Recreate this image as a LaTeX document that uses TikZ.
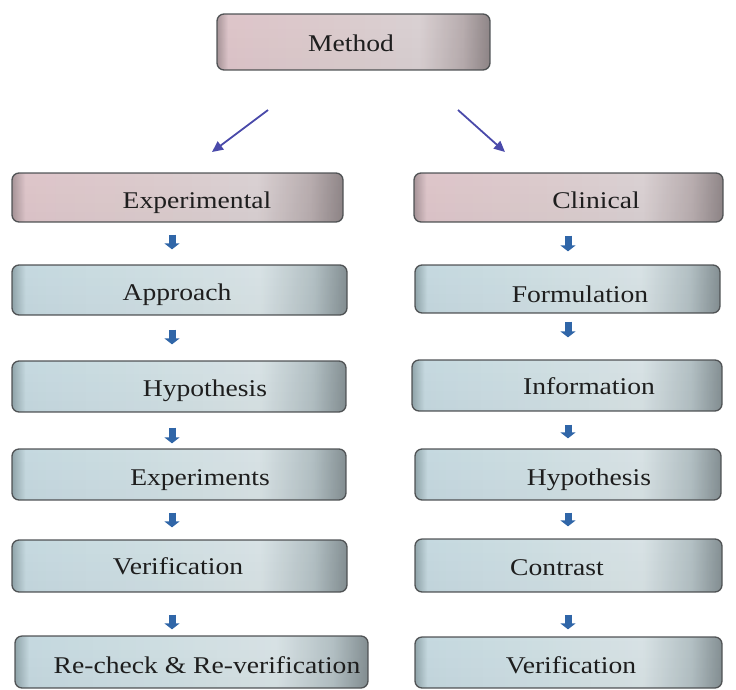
\documentclass[tikz,border=0pt]{standalone}
\usepackage{fontspec}
\usetikzlibrary{arrows.meta,fadings}
\newfontfamily\boxfont[FakeStretch=1.15]{Liberation Serif}

\definecolor{boxedge}{HTML}{55585A}
\definecolor{txt}{HTML}{1E1E1E}
\definecolor{diagblue}{HTML}{4A4AAA}
\definecolor{blockblue}{HTML}{3066A8}
% pink header boxes
\definecolor{pk0}{HTML}{B4A0A4}
\definecolor{pk1}{HTML}{EED4D9}
\definecolor{pk2}{HTML}{ECDADC}
\definecolor{pk3}{HTML}{EAE0E2}
\definecolor{pk4}{HTML}{C6BABC}
\definecolor{pk5}{HTML}{9A9092}
% pale blue step boxes
\definecolor{bl0}{HTML}{9CB2B8}
\definecolor{bl1}{HTML}{D4E9F0}
\definecolor{bl2}{HTML}{DDEEF3}
\definecolor{bl3}{HTML}{E8F3F6}
\definecolor{bl4}{HTML}{C0CED2}
\definecolor{bl5}{HTML}{8E9A9E}

\pgfdeclarehorizontalshading{pinkshade}{100bp}{color(0bp)=(pk0); color(25bp)=(pk0); color(27bp)=(pk1); color(45bp)=(pk2); color(62bp)=(pk3); color(70bp)=(pk4); color(75bp)=(pk5); color(100bp)=(pk5)}
\pgfdeclarehorizontalshading{blueshade}{100bp}{color(0bp)=(bl0); color(25bp)=(bl0); color(27bp)=(bl1); color(45bp)=(bl2); color(62bp)=(bl3); color(70bp)=(bl4); color(75bp)=(bl5); color(100bp)=(bl5)}
\tikzfading[name=edgedark, top color=transparent!55, middle color=transparent!100, bottom color=transparent!40]

\tikzset{
  basebox/.style={rounded corners=7pt, draw=boxedge, line width=1.3pt, inner sep=0pt,
    postaction={fill=black, fill opacity=0.15, path fading=edgedark}},
  pinkbox/.style={basebox, shading=pinkshade},
  bluebox/.style={basebox, shading=blueshade},
  lbl/.style={anchor=base, inner sep=0pt, text=txt, font=\boxfont\fontsize{24}{28}\selectfont},
  diag/.style={draw=diagblue, line width=1.8pt, -{Triangle[length=11pt,width=10pt]}},
  blk/.style={draw=blockblue, line width=7pt, -{Triangle[length=6pt,width=15pt]}}
}

\begin{document}
\begin{tikzpicture}[x=1pt,y=-1pt]
\useasboundingbox (0,0) rectangle (736,689);

% top box
\node[pinkbox, minimum width=273pt, minimum height=56pt] (method) at (353.5,42) {};
\node[lbl] (methodT) at (351,51) {Method};

% left column
\node[pinkbox, minimum width=331pt, minimum height=49pt] (exp) at (177.5,197.5) {};
\node[bluebox, minimum width=335pt, minimum height=50pt] (app) at (179.5,290) {};
\node[bluebox, minimum width=334pt, minimum height=51pt] (hypL) at (179,386.5) {};
\node[bluebox, minimum width=334pt, minimum height=51pt] (expts) at (179,474.5) {};
\node[bluebox, minimum width=335pt, minimum height=52pt] (verL) at (179.5,566) {};
\node[bluebox, minimum width=353pt, minimum height=52pt] (rechk) at (191.5,662) {};

\node[lbl] (expT) at (197,208) {Experimental};
\node[lbl] (appT) at (177,300) {Approach};
\node[lbl] (hypLT) at (205,396) {Hypothesis};
\node[lbl] (exptsT) at (200,485) {Experiments};
\node[lbl] (verLT) at (178,574) {Verification};
\node[lbl] (rechkT) at (207,673) {Re-check \& Re-verification};

% right column
\node[pinkbox, minimum width=309pt, minimum height=49pt] (clin) at (568.5,197.5) {};
\node[bluebox, minimum width=305pt, minimum height=48pt] (form) at (567.5,289) {};
\node[bluebox, minimum width=310pt, minimum height=51pt] (info) at (567,385.5) {};
\node[bluebox, minimum width=306pt, minimum height=51pt] (hypR) at (568,474.5) {};
\node[bluebox, minimum width=307pt, minimum height=53pt] (contr) at (568.5,565.5) {};
\node[bluebox, minimum width=307pt, minimum height=51pt] (verR) at (568.5,662.5) {};

\node[lbl] (clinT) at (596,208) {Clinical};
\node[lbl] (formT) at (580,302) {Formulation};
\node[lbl] (infoT) at (589,394) {Information};
\node[lbl] (hypRT) at (589,485) {Hypothesis};
\node[lbl] (contrT) at (557,575) {Contrast};
\node[lbl] (verRT) at (571,673) {Verification};

% branching arrows under the top box
\coordinate (mL) at (268,110);
\coordinate (eL) at (212,152);
\coordinate (mR) at (458,110);
\coordinate (eR) at (505,152);
\draw[diag] (mL) -- (eL);
\draw[diag] (mR) -- (eR);

% step arrows, left column (all on one vertical line)
\coordinate (colL) at (172,0);
\draw[blk, shorten <=12pt, shorten >=15pt] (colL |- exp.south) -- (colL |- app.north);
\draw[blk, shorten <=14pt, shorten >=16pt] (colL |- app.south) -- (colL |- hypL.north);
\draw[blk, shorten <=15pt, shorten >=5pt] (colL |- hypL.south) -- (colL |- expts.north);
\draw[blk, shorten <=12pt, shorten >=12pt] (colL |- expts.south) -- (colL |- verL.north);
\draw[blk, shorten <=22pt, shorten >=6pt] (colL |- verL.south) -- (colL |- rechk.north);

% step arrows, right column
\coordinate (colR) at (568,0);
\draw[blk, shorten <=13pt, shorten >=13pt] (colR |- clin.south) -- (colR |- form.north);
\draw[blk, shorten <=8pt, shorten >=22pt] (colR |- form.south) -- (colR |- info.north);
\draw[blk, shorten <=13pt, shorten >=10pt] (colR |- info.south) -- (colR |- hypR.north);
\draw[blk, shorten <=12pt, shorten >=12pt] (colR |- hypR.south) -- (colR |- contr.north);
\draw[blk, shorten <=22pt, shorten >=7pt] (colR |- contr.south) -- (colR |- verR.north);
\end{tikzpicture}
\end{document}
